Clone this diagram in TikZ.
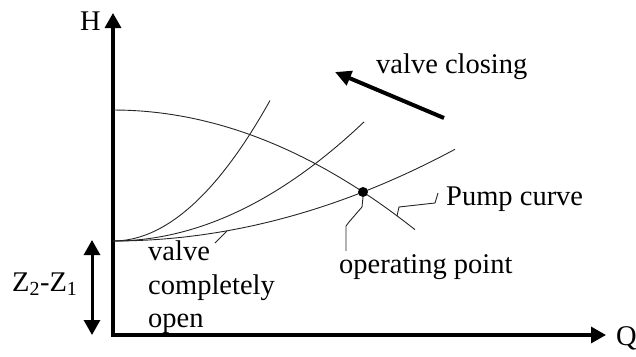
\documentclass[tikz,border=0pt]{standalone}
\usepackage{fontspec}
\setmainfont{Liberation Serif}
\usetikzlibrary{arrows.meta,positioning,calc}

\begin{document}
\begin{tikzpicture}[x=1pt,y=-1pt,
    lbl/.style={font=\fontsize{28.5}{33.5}\selectfont, inner sep=0pt},
    curve/.style={line width=0.9pt, black!85},
    lead/.style={line width=0.9pt, black!85},
    bigtip/.style={line width=3.2pt, {Triangle[length=15pt,width=16pt]}-{Triangle[length=15pt,width=16pt]}}]
    \useasboundingbox (0,0) rectangle (636,356);

    \def \ox {113}
    \def \oy {335}
    \def \sy {241}

    % axes
    \coordinate (O) at (\ox,\oy);
    \coordinate (Htop) at (\ox,13);
    \coordinate (Qend) at (606,\oy);
    \draw[bigtip, line join=miter] (Htop) -- (O) -- (Qend);
    \node[lbl, anchor=base east] (H) at (101,30) {H};
    \node[lbl, anchor=base west] (Q) at (616,345) {Q};

    % static head
    \coordinate (zTop) at (92,240);
    \coordinate (zBot) at (92,\oy);
    \draw[bigtip, line width=3pt] (zTop) -- (zBot);
    \node[lbl, anchor=base west] (Z) at (12,291) {Z\textsubscript{2}-Z\textsubscript{1}};

    % pump curve and system curves
    \draw[curve, domain=\ox:415, smooth, variable=\x] plot ({\x},{110+13.12*((\x-\ox)/100)^2});
    \draw[curve, domain=\ox:455, smooth, variable=\x] plot ({\x},{\sy-7.84*((\x-\ox)/100)^2});
    \draw[curve, domain=\ox:364, smooth, variable=\x] plot ({\x},{\sy-18.9*((\x-\ox)/100)^2});
    \draw[curve, domain=\ox:270, smooth, variable=\x] plot ({\x},{\sy-57*((\x-\ox)/100)^2});

    \node[circle, fill, inner sep=0pt, minimum size=10pt] (op) at (363,192) {};

    % labels
    \node[lbl, anchor=base west] (opText) at (339,273) {operating point};
    \node[lbl, anchor=base west] (pump) at (446,205) {Pump curve};
    \node[lbl, anchor=north west, align=left] (open) at (148,241) {valve\\completely\\open};
    \node[lbl, anchor=base west] (closing) at (376,73) {valve closing};

    % leaders
    \coordinate (pc) at (397,216);
    \coordinate (oc) at (227,231);
    \coordinate (oEnd) at (215,243);
    \draw[lead] (op.south) -- (362,207) -- (349,222) -- (346,226) -- ($(opText.north west)+(7,-3)$);
    \draw[lead] (pc) -- (399,207) -- (435,203) -- (438,193);
    \draw[lead] (oc) -- (oEnd);

    % valve closing arrow
    \coordinate (vcA) at (444,118);
    \coordinate (vcB) at (335,72);
    \draw[line width=4pt, -{Triangle[length=16pt,width=15pt]}] (vcA) -- (vcB);
\end{tikzpicture}
\end{document}
